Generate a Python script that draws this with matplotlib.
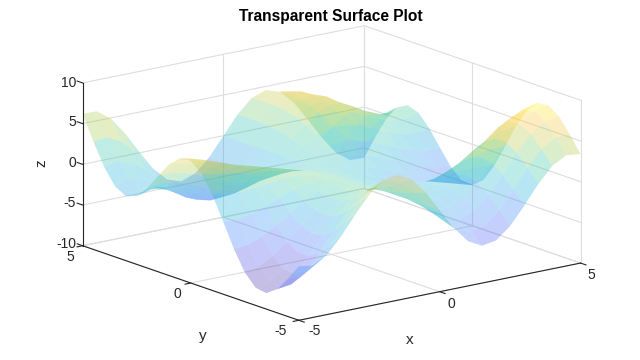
import matplotlib
matplotlib.use('Agg')
import matplotlib.pyplot as plt
from matplotlib.colors import LinearSegmentedColormap, Normalize
import numpy as np

plt.rcParams['font.family'] = ['Liberation Sans', 'DejaVu Sans']

x_vals = [-5, -4.5, -4, -3.5, -3, -2.5, -2, -1.5, -1, -0.5, 0, 0.5, 1, 1.5, 2, 2.5, 3, 3.5, 4, 4.5, 5]
y_vals = [-5, -4.5, -4, -3.5, -3, -2.5, -2, -1.5, -1, -0.5, 0, 0.5, 1, 1.5, 2, 2.5, 3, 3.5, 4, 4.5, 5]

# one row per y value, left to right along x
z_rows = [
    [-3.38, -3.61, -2.65, -0.76, 1.56, 3.70, 5.11, 5.41, 4.49, 2.54, 0, -2.54, -4.49, -5.41, -5.11, -3.70, -1.56, 0.76, 2.65, 3.61, 3.38],
    [-5.37, -5.35, -4.25, -2.32, 0.00, 2.17, 3.67, 4.17, 3.58, 2.05, 0, -2.05, -3.58, -4.17, -3.67, -2.17, 0.00, 2.32, 4.25, 5.35, 5.37],
    [-7.10, -6.85, -5.64, -3.69, -1.40, 0.76, 2.33, 3.01, 2.71, 1.59, 0, -1.59, -2.71, -3.01, -2.33, -0.76, 1.40, 3.69, 5.64, 6.85, 7.10],
    [-8.04, -7.64, -6.39, -4.51, -2.32, -0.25, 1.31, 2.09, 2.01, 1.21, 0, -1.21, -2.01, -2.09, -1.31, 0.25, 2.32, 4.51, 6.39, 7.64, 8.04],
    [-7.83, -7.39, -6.23, -4.52, -2.55, -0.68, 0.75, 1.51, 1.53, 0.94, 0, -0.94, -1.53, -1.51, -0.75, 0.68, 2.55, 4.52, 6.23, 7.39, 7.83],
    [-6.40, -6.05, -5.10, -3.68, -2.05, -0.51, 0.67, 1.29, 1.30, 0.80, 0, -0.80, -1.30, -1.29, -0.67, 0.51, 2.05, 3.68, 5.10, 6.05, 6.40],
    [-4.00, -3.83, -3.18, -2.16, -0.97, 0.16, 0.99, 1.37, 1.27, 0.75, 0, -0.75, -1.27, -1.37, -0.99, -0.16, 0.97, 2.16, 3.18, 3.83, 4.00],
    [-1.08, -1.15, -0.85, -0.28, 0.42, 1.07, 1.51, 1.60, 1.33, 0.75, 0, -0.75, -1.33, -1.60, -1.51, -1.07, -0.42, 0.28, 0.85, 1.15, 1.08],
    [1.74, 1.45, 1.40, 1.54, 1.76, 1.95, 1.99, 1.81, 1.38, 0.75, 0, -0.75, -1.38, -1.81, -1.99, -1.95, -1.76, -1.54, -1.40, -1.45, -1.74],
    [3.91, 3.46, 3.13, 2.90, 2.70, 2.49, 2.21, 1.82, 1.30, 0.68, 0, -0.68, -1.30, -1.82, -2.21, -2.49, -2.70, -2.90, -3.13, -3.46, -3.91],
    [5.00, 4.50, 4.00, 3.50, 3.00, 2.50, 2.00, 1.50, 1.00, 0.50, 0, -0.50, -1.00, -1.50, -2.00, -2.50, -3.00, -3.50, -4.00, -4.50, -5.00],
    [4.87, 4.44, 3.89, 3.25, 2.56, 1.89, 1.30, 0.82, 0.46, 0.20, 0, -0.20, -0.46, -0.82, -1.30, -1.89, -2.56, -3.25, -3.89, -4.44, -4.87],
    [3.66, 3.41, 2.92, 2.24, 1.48, 0.75, 0.17, -0.19, -0.30, -0.21, 0, 0.21, 0.30, 0.19, -0.17, -0.75, -1.48, -2.24, -2.92, -3.41, -3.66],
    [1.79, 1.78, 1.42, 0.77, 0.00, -0.72, -1.22, -1.39, -1.19, -0.68, 0, 0.68, 1.19, 1.39, 1.22, 0.72, 0.00, -0.77, -1.42, -1.78, -1.79],
    [-0.16, 0.08, -0.15, -0.75, -1.53, -2.24, -2.65, -2.62, -2.10, -1.17, 0, 1.17, 2.10, 2.62, 2.65, 2.24, 1.53, 0.75, 0.15, -0.08, 0.16],
    [-1.61, -1.16, -1.31, -1.93, -2.76, -3.50, -3.88, -3.70, -2.90, -1.60, 0, 1.60, 2.90, 3.70, 3.88, 3.50, 2.76, 1.93, 1.31, 1.16, 1.61],
    [-2.07, -1.52, -1.69, -2.41, -3.39, -4.27, -4.71, -4.48, -3.51, -1.93, 0, 1.93, 3.51, 4.48, 4.71, 4.27, 3.39, 2.41, 1.69, 1.52, 2.07],
    [-1.33, -0.79, -1.10, -2.05, -3.30, -4.44, -5.06, -4.90, -3.88, -2.15, 0, 2.15, 3.88, 4.90, 5.06, 4.44, 3.30, 2.05, 1.10, 0.79, 1.33],
    [0.57, 0.97, 0.41, -0.88, -2.53, -4.03, -4.94, -4.97, -4.02, -2.24, 0, 2.24, 4.02, 4.97, 4.94, 4.03, 2.53, 0.88, -0.41, -0.97, -0.57],
    [3.26, 3.45, 2.56, 0.84, -1.27, -3.22, -4.51, -4.81, -4.00, -2.26, 0, 2.26, 4.00, 4.81, 4.51, 3.22, 1.27, -0.84, -2.56, -3.45, -3.26],
    [6.21, 6.16, 4.92, 2.75, 0.15, -2.28, -3.98, -4.56, -3.92, -2.26, 0, 2.26, 3.92, 4.56, 3.98, 2.28, -0.15, -2.75, -4.92, -6.16, -6.21],
]

x_ticks = [-5, 0, 5]
y_ticks = [-5, 0, 5]
z_ticks = [-10, -5, 0, 5, 10]

parula = LinearSegmentedColormap.from_list('parula', [
    (0.2422, 0.1504, 0.6603), (0.2810, 0.3228, 0.9579), (0.1786, 0.5289, 0.9682),
    (0.0689, 0.6948, 0.8394), (0.2161, 0.7843, 0.5923), (0.6720, 0.7793, 0.2227),
    (0.9970, 0.7659, 0.2199), (0.9769, 0.9839, 0.0805)])

X, Y = np.meshgrid(x_vals, y_vals)
Z = np.array(z_rows)

fig = plt.figure(figsize=(6.4, 3.6), dpi=100)
ax = fig.add_axes([0.039, 0.0686, 0.933, 0.878], projection='3d', computed_zorder=False)
# matlab stretches the box to fill the figure, so no equal aspect here
ax.apply_aspect = lambda position=None: None
ax.set_proj_type('ortho')
ax.view_init(elev=30, azim=-127.5)
ax.set_box_aspect((1, 1, 1))
ax.set_xlim(-5, 5, view_margin=0)
ax.set_ylim(-5, 5, view_margin=0)
ax.set_zlim(-10, 10, view_margin=0)
ax.set_axis_off()

colors = parula(Normalize(Z.min(), Z.max())(Z))
ax.plot_surface(X, Y, Z, facecolors=colors, rstride=1, cstride=1, shade=False,
                alpha=0.3, linewidth=0, antialiased=True, zorder=2)

# Back walls and floor grid
grid_kw = dict(color='#dedede', linewidth=0.8, zorder=1)
for z in z_ticks:
    ax.plot([-5, 5], [5, 5], [z, z], **grid_kw)
    ax.plot([5, 5], [-5, 5], [z, z], **grid_kw)
for x in x_ticks:
    ax.plot([x, x], [5, 5], [-10, 10], **grid_kw)
    ax.plot([x, x], [-5, 5], [-10, -10], **grid_kw)
for y in y_ticks:
    ax.plot([5, 5], [y, y], [-10, 10], **grid_kw)
    ax.plot([-5, 5], [y, y], [-10, -10], **grid_kw)

# Black axis lines and ticks
axis_kw = dict(color='#262626', linewidth=0.8, zorder=3)
ax.plot([-5, 5], [-5, -5], [-10, -10], **axis_kw)
ax.plot([-5, -5], [-5, 5], [-10, -10], **axis_kw)
ax.plot([-5, -5], [5, 5], [-10, 10], **axis_kw)
for x in x_ticks:
    ax.plot([x, x], [-5, -5.25], [-10, -10], **axis_kw)
for y in y_ticks:
    ax.plot([-5, -5.2], [y, y], [-10, -10], **axis_kw)
for z in z_ticks:
    ax.plot([-5, -5], [5, 5.25], [z, z], **axis_kw)

def put(px, py, s, **kw):
    fig.text(px / 640, 1 - py / 360, s, color='#262626', va='center', **kw)

z_label_py = [244, 203, 163, 122, 83]
for z, py in zip(z_ticks, z_label_py):
    put(76, py, str(z), ha='right', fontsize=10)
x_label_px = [315, 451, 591]
x_label_py = [331, 304, 275]
for x, px, py in zip(x_ticks, x_label_px, x_label_py):
    put(px, py, str(x), ha='center', fontsize=10)
y_label_px = [281, 177, 70]
y_label_py = [331, 294, 257]
for y, px, py in zip(y_ticks, y_label_px, y_label_py):
    put(px, py, str(y), ha='center', fontsize=10)

put(410, 340, 'x', ha='center', fontsize=11)
put(203, 336, 'y', ha='center', fontsize=11)
put(41, 163, 'z', ha='center', fontsize=11, rotation=90)

fig.text(331 / 640, 1 - 16 / 360, 'Transparent Surface Plot', color='black', fontsize=11.2,
         fontweight='bold', ha='center', va='center')

plt.savefig('out.png', dpi=100)
